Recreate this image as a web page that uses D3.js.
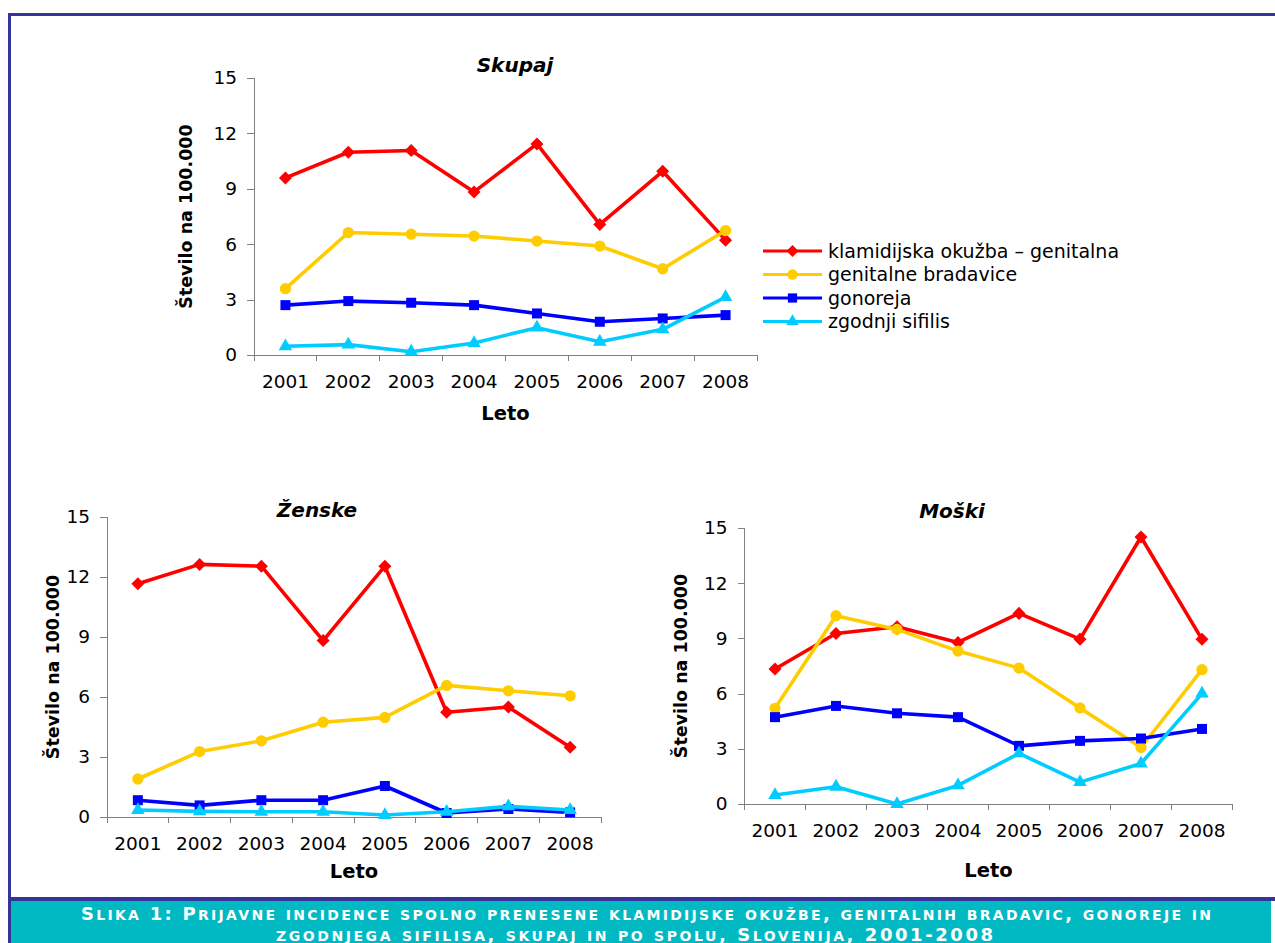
<!DOCTYPE html>
<html lang="sl">
<head>
<meta charset="utf-8">
<title>Prijavne incidence SPO</title>
<script src="https://cdn.jsdelivr.net/npm/d3@7"></script>
<style>
  body { margin: 0; background: #fff; }
  .axis path, .axis line { stroke: #808080; shape-rendering: crispEdges; }
  .axis text { font-family: "DejaVu Sans", Verdana, sans-serif; font-size: 18.5px; fill: #000; }
  .caption { font-family: "DejaVu Sans", Verdana, sans-serif; font-weight: bold; fill: #fff; font-size: 18px; }
  .lbl { font-family: "DejaVu Sans", Verdana, sans-serif; font-weight: bold; }
</style>
</head>
<body>
<script>
// categories
var years = ["2001", "2002", "2003", "2004", "2005", "2006", "2007", "2008"];
var yTicks = [0, 3, 6, 9, 12, 15];

var seriesNames = ["klamidijska okužba – genitalna", "genitalne bradavice", "gonoreja", "zgodnji sifilis"];
var seriesColors = ["#ff0000", "#ffcc00", "#0000ff", "#00ccff"];

var captionLines = [
  "Slika 1: Prijavne incidence spolno prenesene klamidijske okužbe, genitalnih bradavic, gonoreje in",
  "zgodnjega sifilisa, skupaj in po spolu, Slovenija, 2001-2008"
];

// Skupaj
var skupajKlamidija = [9.59, 10.98, 11.07, 8.83, 11.43, 7.07, 9.95, 6.22];
var skupajBradavice = [3.59, 6.63, 6.54, 6.44, 6.17, 5.90, 4.67, 6.74];
var skupajGonoreja  = [2.70, 2.92, 2.83, 2.70, 2.25, 1.80, 1.98, 2.16];
var skupajSifilis   = [0.47, 0.56, 0.18, 0.65, 1.48, 0.72, 1.39, 3.13];

// Ženske
var zenskeKlamidija = [11.66, 12.63, 12.54, 8.82, 12.54, 5.24, 5.50, 3.49];
var zenskeBradavice = [1.90, 3.27, 3.81, 4.74, 4.98, 6.58, 6.31, 6.06];
var zenskeGonoreja  = [0.84, 0.58, 0.84, 0.84, 1.55, 0.20, 0.40, 0.23];
var zenskeSifilis   = [0.35, 0.28, 0.26, 0.26, 0.10, 0.26, 0.53, 0.35];

// Moški
var moskiKlamidija = [7.34, 9.27, 9.63, 8.78, 10.36, 8.96, 14.51, 8.95];
var moskiBradavice = [5.20, 10.23, 9.49, 8.31, 7.39, 5.22, 3.07, 7.30];
var moskiGonoreja  = [4.72, 5.33, 4.93, 4.72, 3.16, 3.43, 3.56, 4.08];
var moskiSifilis   = [0.49, 0.94, 0.0, 1.01, 2.75, 1.19, 2.20, 6.00];

var W = 1275, H = 943;
var svg = d3.select("body").append("svg").attr("width", W).attr("height", H);

// markers: diamond (rotated square), circle, square, triangle
function marker(k, scale) {
  var s = scale || 1;
  if (k === 0) return d3.symbol().type(d3.symbolSquare).size(85 * s)();
  if (k === 1) return d3.symbol().type(d3.symbolCircle).size(100 * s)();
  if (k === 2) return d3.symbol().type(d3.symbolSquare).size(100 * s)();
  return d3.symbol().type(d3.symbolTriangle).size(80 * s)();
}
function markerRot(k) { return k === 0 ? " rotate(45)" : ""; }

// frame
svg.append("rect").attr("x", 8).attr("y", 13).attr("width", W - 8).attr("height", 3).attr("fill", "#333399");
svg.append("rect").attr("x", 8).attr("y", 13).attr("width", 3).attr("height", H - 13).attr("fill", "#333399");
svg.append("rect").attr("x", 11).attr("y", 897).attr("width", W - 11).attr("height", 4).attr("fill", "#333399");
svg.append("rect").attr("x", 11).attr("y", 901).attr("width", W - 15).attr("height", H - 901).attr("fill", "#00b9c3");

// caption in hand-made small caps (lowercase -> smaller capitals)
function smallCaps(sel, str) {
  var runs = [];
  str.split("").forEach(function(ch) {
    var small = ch !== ch.toUpperCase();
    var last = runs[runs.length - 1];
    if (last && last.small === small) last.t += ch;
    else runs.push({ small: small, t: ch });
  });
  sel.selectAll("tspan").data(runs).enter().append("tspan")
    .style("font-size", function(d) { return d.small ? "14px" : "18px"; })
    .text(function(d) { return d.t.toUpperCase(); });
}
var capX = [81, 276], capY = [920, 941], capW = [1130, 717];
captionLines.forEach(function(s, i) {
  var t = svg.append("text").attr("class", "caption").attr("x", capX[i]).attr("y", capY[i])
    .attr("textLength", capW[i]).attr("lengthAdjust", "spacing");
  smallCaps(t, s);
});

function drawChart(c) {
  var g = svg.append("g");
  var x = d3.scaleBand().domain(years).range([c.x0, c.x1]);
  var y = d3.scaleLinear().domain([0, 15]).range([c.yb, c.yt]);

  var ya = g.append("g").attr("class", "axis").attr("transform", "translate(" + c.x0 + ",0)")
    .call(d3.axisLeft(y).tickValues(yTicks).tickSize(7).tickPadding(10).tickSizeOuter(0));
  ya.select(".domain").attr("d", "M0," + c.yb + "V" + c.yt);

  var xa = g.append("g").attr("class", "axis").attr("transform", "translate(0," + c.yb + ")")
    .call(d3.axisBottom(x).tickSize(0).tickPadding(20).tickSizeOuter(0));
  xa.selectAll(".tick line").remove();
  xa.select(".domain").attr("d", "M" + c.x0 + ",0H" + c.x1);
  xa.selectAll(".bound").data(d3.range(years.length + 1)).enter().append("line")
    .attr("x1", function(i) { return c.x0 + i * x.step(); })
    .attr("x2", function(i) { return c.x0 + i * x.step(); })
    .attr("y1", 0).attr("y2", 6);

  g.append("text").attr("class", "lbl").attr("x", c.titleX).attr("y", c.titleY).attr("text-anchor", "middle")
    .style("font-size", "20px").style("font-style", "italic").text(c.title);

  g.append("text").attr("class", "lbl").attr("x", (c.x0 + c.x1) / 2).attr("y", c.letoY).attr("text-anchor", "middle")
    .style("font-size", "19.5px").text("Leto");

  g.append("text").attr("class", "lbl")
    .attr("transform", "translate(" + c.ytX + "," + ((c.yt + c.yb) / 2) + ") rotate(-90)")
    .attr("text-anchor", "middle").style("font-size", "17.5px").text("Število na 100.000");

  var line = d3.line()
    .x(function(d, i) { return x(years[i]) + x.bandwidth() / 2; })
    .y(function(d) { return y(d); });

  c.series.forEach(function(vals, k) {
    g.append("path").datum(vals).attr("d", line).attr("fill", "none")
      .attr("stroke", seriesColors[k]).attr("stroke-width", 3.6).attr("stroke-linejoin", "round");
    g.selectAll(".m" + k).data(vals).enter().append("path")
      .attr("transform", function(d, i) {
        return "translate(" + (x(years[i]) + x.bandwidth() / 2) + "," + y(d) + ")" + markerRot(k);
      })
      .attr("d", marker(k))
      .attr("fill", seriesColors[k]);
  });
}

drawChart({ title: "Skupaj", x0: 254, x1: 757, yt: 78, yb: 355, titleX: 515, titleY: 72, letoY: 420, ytX: 192,
  series: [skupajKlamidija, skupajBradavice, skupajGonoreja, skupajSifilis] });
drawChart({ title: "Ženske", x0: 107, x1: 601, yt: 517, yb: 817, titleX: 317, titleY: 517, letoY: 878, ytX: 59,
  series: [zenskeKlamidija, zenskeBradavice, zenskeGonoreja, zenskeSifilis] });
drawChart({ title: "Moški", x0: 744.5, x1: 1232.5, yt: 528, yb: 804, titleX: 952, titleY: 518, letoY: 877, ytX: 687,
  series: [moskiKlamidija, moskiBradavice, moskiGonoreja, moskiSifilis] });

// legend
var leg = svg.append("g").attr("transform", "translate(763,251)");
var rows = leg.selectAll("g").data(seriesNames).enter().append("g")
  .attr("transform", function(d, i) { return "translate(0," + (i * 23.5) + ")"; });
rows.append("line").attr("x1", 0).attr("x2", 59).attr("y1", 0).attr("y2", 0)
  .attr("stroke", function(d, i) { return seriesColors[i]; }).attr("stroke-width", 3.2);
rows.append("path").attr("transform", function(d, i) { return "translate(29.5,0)" + markerRot(i); })
  .attr("d", function(d, i) { return marker(i, 0.85); })
  .attr("fill", function(d, i) { return seriesColors[i]; });
rows.append("text").attr("x", 65).attr("y", 6.5)
  .style("font-family", "DejaVu Sans, Verdana, sans-serif").style("font-size", "19px")
  .text(function(d) { return d; });
</script>
</body>
</html>
